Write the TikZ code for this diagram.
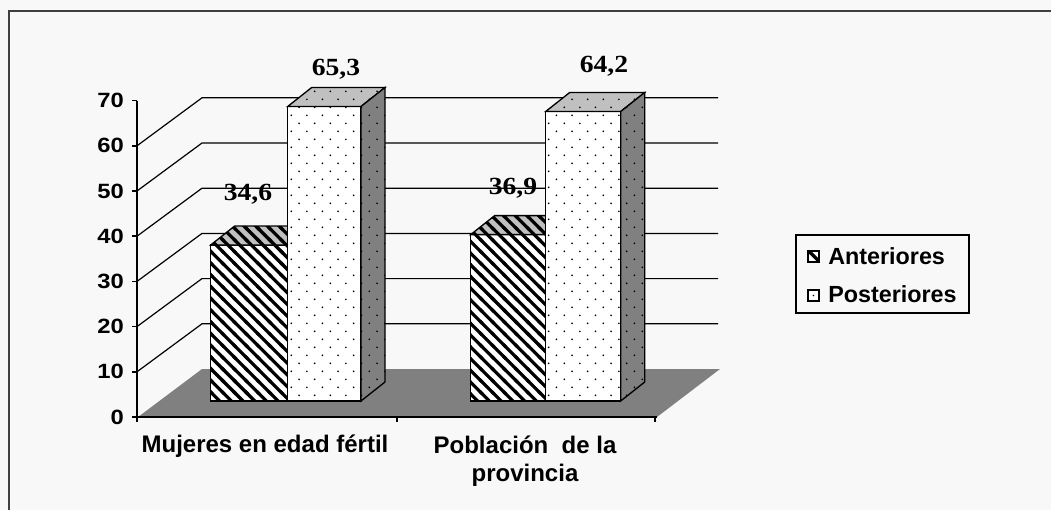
\documentclass[tikz,border=0pt]{standalone}
\usepackage{fontspec}
\setmainfont{Liberation Sans}
\newfontfamily\labserif{Liberation Serif}
\usetikzlibrary{patterns}
\definecolor{bg}{HTML}{F8F8F8}
\definecolor{framegray}{HTML}{404040}
\definecolor{floorgray}{HTML}{808080}
\definecolor{topgray}{HTML}{C0C0C0}
\definecolor{sidegray}{HTML}{808080}
\pgfdeclarepatternformonly{sparsedots}{\pgfpoint{-1pt}{-1pt}}{\pgfpoint{13pt}{13pt}}{\pgfpoint{11.7pt}{12pt}}{%
  \pgfpathcircle{\pgfpoint{2pt}{2pt}}{0.7pt}%
  \pgfpathcircle{\pgfpoint{7.85pt}{8pt}}{0.7pt}%
  \pgfusepath{fill}}
\pgfdeclarepatternformonly{thickhatch}{\pgfpoint{-2pt}{-2pt}}{\pgfpoint{10.8pt}{10.8pt}}{\pgfpoint{8.8pt}{8.8pt}}{%
  \pgfsetlinewidth{2.4pt}%
  \pgfpathmoveto{\pgfpoint{-1pt}{9.8pt}}%
  \pgfpathlineto{\pgfpoint{9.8pt}{-1pt}}%
  \pgfusepath{stroke}}
\tikzset{
  gridline/.style={draw=black, line width=0.9pt},
  axisline/.style={draw=black, line width=1.1pt},
  edge/.style={draw=black, line width=1pt, line join=miter},
  frontA/.style={edge, preaction={fill=white}, pattern=thickhatch},
  topA/.style={edge, preaction={fill=topgray}, pattern=thickhatch},
  frontP/.style={edge, preaction={fill=white}, pattern=sparsedots},
  topP/.style={edge, preaction={fill=topgray}, pattern=sparsedots},
  sideP/.style={edge, preaction={fill=sidegray}, pattern=sparsedots},
  axnum/.style={inner sep=0pt, anchor=east, font=\fontsize{15.5}{17}\selectfont\bfseries},
  datalab/.style={inner sep=0pt, font=\labserif\fontsize{18.5}{20}\selectfont\bfseries},
  catlab/.style={inner sep=0pt, anchor=base, align=center, font=\fontsize{18}{21}\selectfont\bfseries},
  leglab/.style={inner sep=0pt, anchor=base west, font=\fontsize{17.5}{20}\selectfont\bfseries},
}
\begin{document}
\begin{tikzpicture}[x=0.75pt,y=-0.75pt]
\useasboundingbox (0,0) rectangle (1051,510);
\fill[bg] (0,0) rectangle (1051,510);
\begin{scope}
  \clip (0,0) rectangle (1051,510);
  \draw[line width=1.5pt, color=framegray] (8.5,530) -- (8.5,11) -- (1070,11);
\end{scope}
% floor
\fill[floorgray] (138,417) -- (202,369) -- (720,369) -- (657,417) -- cycle;
% side wall and back wall gridlines
\foreach \v in {10,20,...,60} {
  \draw[gridline] (137,{417-4.52*\v}) -- (202,{369-4.52*\v}) -- (718,{369-4.52*\v});
}
% axes
\draw[axisline] (137,{417-4.52*70}) -- (137,417) -- (657,417);
\foreach \v in {0,10,...,70} {
  \draw[axisline] (132,{417-4.52*\v}) -- (137,{417-4.52*\v});
  \node[axnum] (n\v) at (124,{417-4.52*\v}) {\scalebox{1.15}[1]{\v}};
}
\foreach \x in {137,397,655} {
  \draw[axisline] (\x,417) -- (\x,422);
}
% group 1
\path[frontA] (210.7,401) rectangle (287.7,245.0);
\path[topA] (210.7,245.0) -- (234.7,226.0) -- (311.7,226.0) -- (287.7,245.0) -- cycle;
\path[frontP] (287.7,401) rectangle (361,106.5);
\path[topP] (287.7,106.5) -- (311.7,87.5) -- (385,87.5) -- (361,106.5) -- cycle;
\path[sideP] (361,401) -- (385,382) -- (385,87.5) -- (361,106.5) -- cycle;
% group 2
\path[frontA] (470.7,401) rectangle (545.7,234.6);
\path[topA] (470.7,234.6) -- (494.7,215.6) -- (569.7,215.6) -- (545.7,234.6) -- cycle;
\path[frontP] (545.7,401) rectangle (620.7,111.5);
\path[topP] (545.7,111.5) -- (569.7,92.5) -- (644.7,92.5) -- (620.7,111.5) -- cycle;
\path[sideP] (620.7,401) -- (644.7,382) -- (644.7,92.5) -- (620.7,111.5) -- cycle;
% data labels
\node[datalab] (d1) at (248,194) {\scalebox{1.12}[1]{34,6}};
\node[datalab] (d2) at (336,69) {\scalebox{1.12}[1]{65,3}};
\node[datalab] (d3) at (513,188) {\scalebox{1.12}[1]{36,9}};
\node[datalab] (d4) at (604,66) {\scalebox{1.12}[1]{64,2}};
% category labels
\node[catlab] (c1) at (265,452) {Mujeres en edad fértil};
\node[catlab] (c2) at (525,481) {Población\ \ de la\\provincia};
% legend
\draw[line width=1.1pt] (796,235) rectangle (969,313);
\path[frontA, line width=0.8pt] (808,251) rectangle (819,262);
\path[edge, fill=white, line width=0.8pt] (808,290) rectangle (819,301);
\fill (813.5,295.5) circle (0.8);
\node[leglab] (g1) at (828,264) {Anteriores};
\node[leglab] (g2) at (828,302) {Posteriores};
\end{tikzpicture}
\end{document}
